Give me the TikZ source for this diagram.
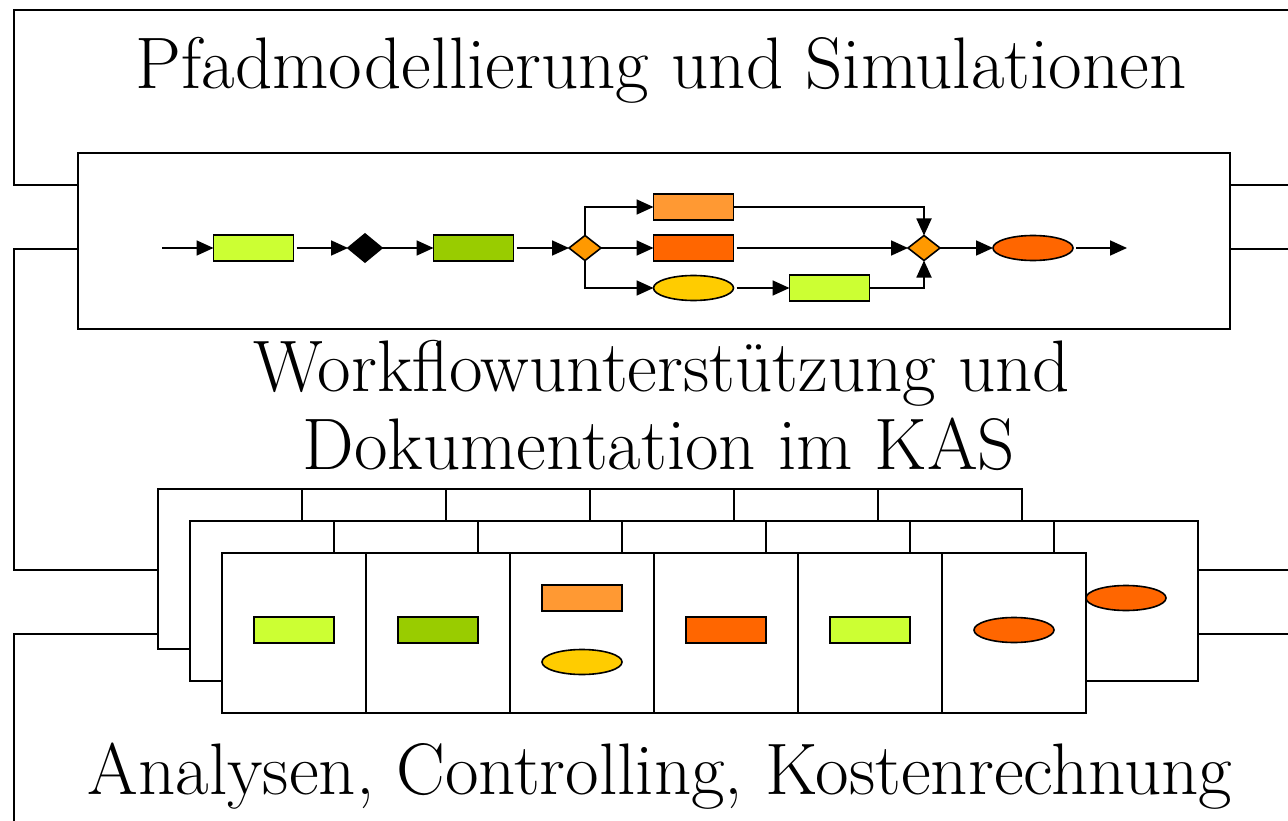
\documentclass[tikz,border=0pt]{standalone}
\usepackage{fontspec}
\usetikzlibrary{arrows.meta,shapes.geometric}
\definecolor{cLime}{HTML}{CCFF33}
\definecolor{cGreen}{HTML}{99CC00}
\definecolor{cLOrange}{HTML}{FF9933}
\definecolor{cDOrange}{HTML}{FF6600}
\definecolor{cYellow}{HTML}{FFCC00}
\definecolor{cDia}{HTML}{FF9900}
\newcommand\myBigFont{\fontsize{73}{84}\selectfont}
\begin{document}
\begin{tikzpicture}[x=1pt,y=-1pt,line width=1.9pt,
  box/.style={draw,line width=1.6pt,minimum width=80pt,minimum height=26pt,inner sep=0pt,outer sep=0pt},
  oval/.style={draw,line width=1.6pt,ellipse,minimum width=80pt,minimum height=25pt,inner sep=0pt,outer sep=0pt},
  gate/.style={draw,line width=1.6pt,diamond,fill=cDia,minimum width=32pt,minimum height=25pt,inner sep=0pt,outer sep=0pt},
  flow/.style={-{Triangle[length=17pt,width=15pt]},line width=1.8pt},
  pagebox/.style={draw,fill=white},
  title/.style={anchor=base,font=\myBigFont,inner sep=0pt}]
\useasboundingbox (0,0) rectangle (1288,821);
% titles
\node[title] (t1) at (661,89) {Pfadmodellierung und Simulationen};
\node[title] (t2) at (662,391) {Workflowunterstützung und};
\node[title] (t3) at (659,469) {Dokumentation im KAS};
\node[title] (t4) at (660,794) {Analysen, Controlling, Kostenrechnung};
% outer frames
\draw (78,185) -- (14,185) -- (14,10) -- (1288,10);
\draw (1230,185) -- (1288,185);
\draw (78,249) -- (14,249) -- (14,570) -- (158,570);
\draw (1230,249) -- (1288,249);
\draw (1198,570) -- (1288,570);
\draw (158,634) -- (14,634) -- (14,821);
\draw (1198,634) -- (1288,634);
% workflow box
\node[draw,minimum width=1152pt,minimum height=176pt,inner sep=0pt,outer sep=0pt] (wf) at (654,241) {};
% flow
\coordinate (s) at (162,248);
\node[box,fill=cLime] (a1) at (253.5,248) {};
\node[gate,fill=black,minimum width=34pt,minimum height=28pt] (d1) at (365,248) {};
\node[box,fill=cGreen] (a2) at (473.5,248) {};
\node[gate] (x1) at (585,248) {};
\node[box,fill=cLOrange] (b1) at (693.5,207) {};
\node[box,fill=cDOrange] (b2) at (693.5,248) {};
\node[oval,fill=cYellow] (b3) at (693.5,288) {};
\node[box,fill=cLime] (b4) at (829.5,288) {};
\node[gate] (x2) at (924,248) {};
\node[oval,fill=cDOrange] (e1) at (1033,248) {};
\coordinate (t) at (1127,248);
\draw[flow] (s) -- (a1);
\draw[flow,shorten <=3pt] (a1) -- (d1);
\draw[flow] (d1) -- (a2);
\draw[flow,shorten <=3pt] (a2) -- (x1);
\draw[flow] (x1.north) |- (b1.west);
\draw[flow] (x1) -- (b2);
\draw[flow] (x1.south) |- (b3.west);
\draw[flow,shorten <=3pt] (b3) -- (b4);
\draw[flow] (b1.east) -| (x2.north);
\draw[flow,shorten <=3pt] (b2) -- (x2);
\draw[flow] (b4.east) -| (x2.south);
\draw[flow] (x2) -- (e1);
\draw[flow,shorten <=3pt] (e1) -- (t);
% stacked pages
\draw[pagebox] (158,489) rectangle (1022,649);
\foreach \x in {302,446,590,734,878} \draw (\x,489) -- (\x,521);
\draw[pagebox] (190,521) rectangle (1198,681);
\foreach \x in {334,478,622,766,910,1054} \draw (\x,521) -- (\x,553);
\draw[pagebox] (222,553) rectangle (1086,713);
\foreach \x in {366,510,654,798,942} \draw (\x,553) -- (\x,713);
\node[oval,fill=cDOrange] (m7) at (1126,598) {};
\node[box,fill=cLime] (p1) at (294,630) {};
\node[box,fill=cGreen] (p2) at (438,630) {};
\node[box,fill=cLOrange] (p3a) at (582,598) {};
\node[oval,fill=cYellow] (p3b) at (582,662) {};
\node[box,fill=cDOrange] (p4) at (726,630) {};
\node[box,fill=cLime] (p5) at (870,630) {};
\node[oval,fill=cDOrange] (p6) at (1014,630) {};
\end{tikzpicture}
\end{document}
